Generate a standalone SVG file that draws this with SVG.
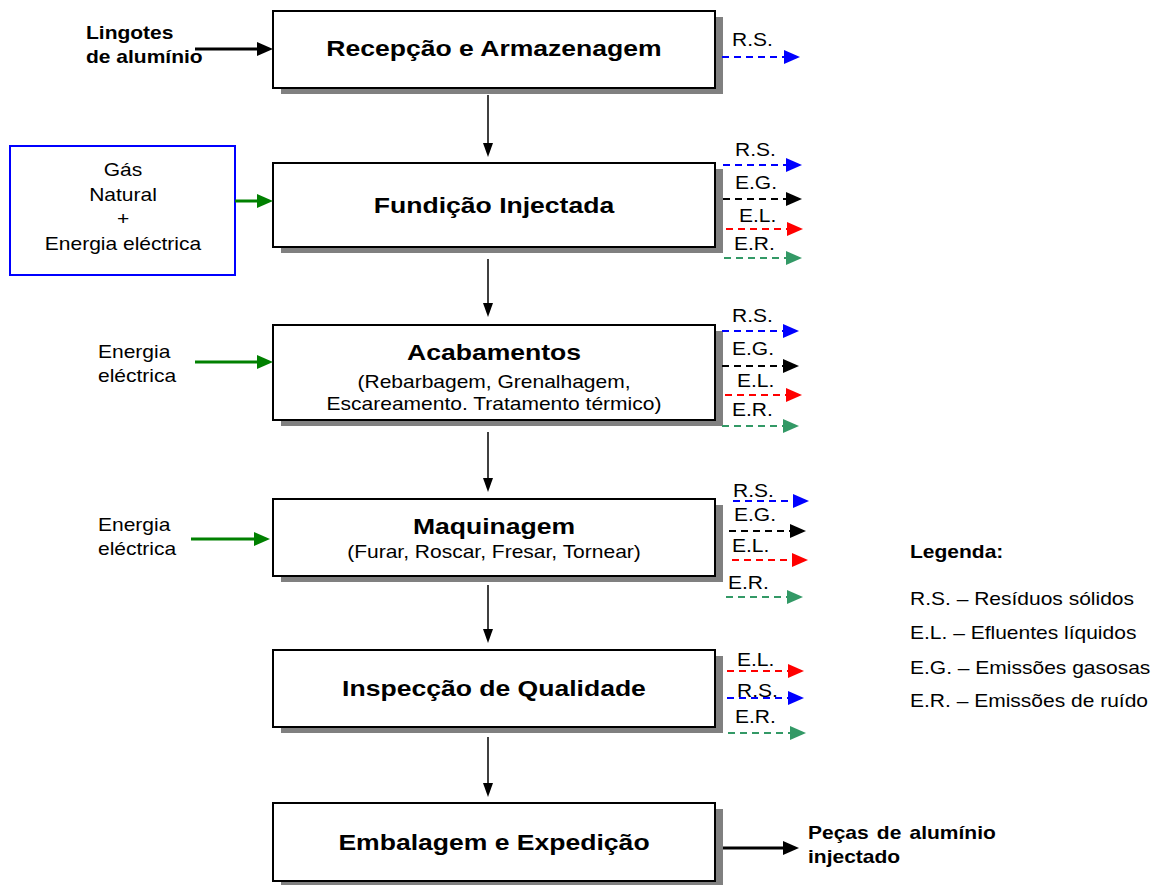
<svg xmlns="http://www.w3.org/2000/svg" width="1158" height="885" viewBox="0 0 1158 885">
<style>
.t{font-family:"Liberation Sans",Arial,Helvetica,sans-serif;font-size:18px;fill:#000}
.b{font-weight:bold}
.c{text-anchor:middle}
.ti{font-family:"Liberation Sans",Arial,Helvetica,sans-serif;font-size:22.5px;font-weight:bold;text-anchor:middle;fill:#000}
.box{fill:#fff;stroke:#000;stroke-width:2}
.sh{fill:#808080}
.d{fill:none;stroke-width:2;stroke-dasharray:7 5}
.sol{fill:none;stroke-width:3}
.v{fill:none;stroke:#000;stroke-width:1.5}
</style>
<defs>
<marker id="mBlue" viewBox="0 0 16 14" refX="0" refY="7" markerWidth="16" markerHeight="14" markerUnits="userSpaceOnUse" orient="auto"><path d="M0,0 L16,7 L0,14 z" fill="#0000FF"/></marker>
<marker id="mBlack" viewBox="0 0 16 14" refX="0" refY="7" markerWidth="16" markerHeight="14" markerUnits="userSpaceOnUse" orient="auto"><path d="M0,0 L16,7 L0,14 z" fill="#000"/></marker>
<marker id="mRed" viewBox="0 0 16 14" refX="0" refY="7" markerWidth="16" markerHeight="14" markerUnits="userSpaceOnUse" orient="auto"><path d="M0,0 L16,7 L0,14 z" fill="#FF0000"/></marker>
<marker id="mSea" viewBox="0 0 16 14" refX="0" refY="7" markerWidth="16" markerHeight="14" markerUnits="userSpaceOnUse" orient="auto"><path d="M0,0 L16,7 L0,14 z" fill="#339966"/></marker>
<marker id="mGreen" viewBox="0 0 16 14" refX="0" refY="7" markerWidth="16" markerHeight="14" markerUnits="userSpaceOnUse" orient="auto"><path d="M0,0 L16,7 L0,14 z" fill="#008000"/></marker>
<marker id="mV" viewBox="0 0 14 10" refX="0" refY="5" markerWidth="14" markerHeight="10" markerUnits="userSpaceOnUse" orient="auto"><path d="M0,0 L14,5 L0,10 z" fill="#000"/></marker>
</defs>
<rect width="1158" height="885" fill="#fff"/>

<g id="n-recepcao">
<rect class="sh" x="281" y="17" width="442" height="77"/>
<rect class="box" x="273" y="11" width="442" height="77"/>
<text class="ti" transform="translate(494 56) scale(1.18 1)">Recepção e Armazenagem</text>
</g>
<g id="n-fundicao">
<rect class="sh" x="281" y="169" width="442" height="84"/>
<rect class="box" x="273" y="163" width="442" height="84"/>
<text class="ti" transform="translate(494 213) scale(1.18 1)">Fundição Injectada</text>
</g>
<g id="n-acabamentos">
<rect class="sh" x="281" y="331" width="442" height="95"/>
<rect class="box" x="273" y="325" width="442" height="95"/>
<text class="ti" transform="translate(494 360) scale(1.18 1)">Acabamentos</text>
<text class="t c" transform="translate(494 388) scale(1.167 1)">(Rebarbagem, Grenalhagem,</text>
<text class="t c" transform="translate(494 410) scale(1.167 1)">Escareamento. Tratamento térmico)</text>
</g>
<g id="n-maquinagem">
<rect class="sh" x="281" y="505" width="442" height="77"/>
<rect class="box" x="273" y="499" width="442" height="77"/>
<text class="ti" transform="translate(494 534) scale(1.18 1)">Maquinagem</text>
<text class="t c" transform="translate(494 558) scale(1.167 1)">(Furar, Roscar, Fresar, Tornear)</text>
</g>
<g id="n-inspeccao">
<rect class="sh" x="281" y="656" width="442" height="77"/>
<rect class="box" x="273" y="650" width="442" height="77"/>
<text class="ti" transform="translate(494 696) scale(1.18 1)">Inspecção de Qualidade</text>
</g>
<g id="n-embalagem">
<rect class="sh" x="281" y="809" width="442" height="78"/>
<rect class="box" x="273" y="803" width="442" height="78"/>
<text class="ti" transform="translate(494 850) scale(1.18 1)">Embalagem e Expedição</text>
</g>
<g id="n-gas">
<rect x="10" y="146" width="225" height="129" fill="#fff" stroke="#0000FF" stroke-width="2"/>
<text class="t c" transform="translate(123 176) scale(1.167 1)">Gás</text>
<text class="t c" transform="translate(123 200.5) scale(1.167 1)">Natural</text>
<text class="t c" transform="translate(123 225) scale(1.167 1)">+</text>
<text class="t c" transform="translate(123 249.5) scale(1.167 1)">Energia eléctrica</text>
</g>

<g id="n-inputs">
<text class="t b" transform="translate(86 39) scale(1.167 1)">Lingotes</text>
<text class="t b" transform="translate(86 63) scale(1.167 1)">de alumínio</text>
<text class="t" transform="translate(98 358) scale(1.167 1)">Energia</text>
<text class="t" transform="translate(98 382) scale(1.167 1)">eléctrica</text>
<text class="t" transform="translate(98 531) scale(1.167 1)">Energia</text>
<text class="t" transform="translate(98 555) scale(1.167 1)">eléctrica</text>
<text class="t b" transform="translate(808 839) scale(1.167 1)" word-spacing="2">Peças de alumínio</text>
<text class="t b" transform="translate(808 863) scale(1.167 1)">injectado</text>
</g>

<g id="legend">
<text class="t b" transform="translate(910 558) scale(1.167 1)">Legenda:</text>
<text class="t" transform="translate(910 605) scale(1.167 1)">R.S. – Resíduos sólidos</text>
<text class="t" transform="translate(910 639) scale(1.167 1)">E.L. – Efluentes líquidos</text>
<text class="t" transform="translate(910 674) scale(1.167 1)">E.G. – Emissões gasosas</text>
<text class="t" transform="translate(910 707) scale(1.167 1)">E.R. – Emissões de ruído</text>
</g>

<g id="connectors">
<line class="sol" x1="195" y1="49" x2="257" y2="49" stroke="#000" marker-end="url(#mBlack)"/>
<line class="sol" x1="235" y1="201" x2="257" y2="201" stroke="#008000" marker-end="url(#mGreen)"/>
<line class="sol" x1="195" y1="362" x2="257" y2="362" stroke="#008000" marker-end="url(#mGreen)"/>
<line class="sol" x1="191" y1="539" x2="254" y2="539" stroke="#008000" marker-end="url(#mGreen)"/>
<line class="sol" x1="723" y1="848" x2="783" y2="848" stroke="#000" marker-end="url(#mBlack)"/>
<line class="v" x1="488" y1="95" x2="488" y2="143" marker-end="url(#mV)"/>
<line class="v" x1="488" y1="259" x2="488" y2="303" marker-end="url(#mV)"/>
<line class="v" x1="488" y1="432" x2="488" y2="478" marker-end="url(#mV)"/>
<line class="v" x1="488" y1="585" x2="488" y2="629" marker-end="url(#mV)"/>
<line class="v" x1="488" y1="737" x2="488" y2="783" marker-end="url(#mV)"/>
<text class="t" transform="translate(732 46) scale(1.167 1)">R.S.</text>
<line class="d" x1="722" y1="57" x2="784" y2="57" stroke="#0000FF" marker-end="url(#mBlue)"/>
<text class="t" transform="translate(735 156) scale(1.167 1)">R.S.</text>
<line class="d" x1="723" y1="165" x2="786" y2="165" stroke="#0000FF" marker-end="url(#mBlue)"/>
<text class="t" transform="translate(735 189) scale(1.167 1)">E.G.</text>
<line class="d" x1="723" y1="199" x2="786" y2="199" stroke="#000" marker-end="url(#mBlack)"/>
<text class="t" transform="translate(739 222) scale(1.167 1)">E.L.</text>
<line class="d" x1="726" y1="229" x2="787" y2="229" stroke="#FF0000" marker-end="url(#mRed)"/>
<text class="t" transform="translate(734 250) scale(1.167 1)">E.R.</text>
<line class="d" x1="724" y1="258" x2="786" y2="258" stroke="#339966" marker-end="url(#mSea)"/>
<text class="t" transform="translate(732 322) scale(1.167 1)">R.S.</text>
<line class="d" x1="722" y1="331" x2="783" y2="331" stroke="#0000FF" marker-end="url(#mBlue)"/>
<text class="t" transform="translate(732 355) scale(1.167 1)">E.G.</text>
<line class="d" x1="722" y1="366" x2="783" y2="366" stroke="#000" marker-end="url(#mBlack)"/>
<text class="t" transform="translate(737 387) scale(1.167 1)">E.L.</text>
<line class="d" x1="725" y1="395" x2="786" y2="395" stroke="#FF0000" marker-end="url(#mRed)"/>
<text class="t" transform="translate(732 416) scale(1.167 1)">E.R.</text>
<line class="d" x1="722" y1="426" x2="783" y2="426" stroke="#339966" marker-end="url(#mSea)"/>
<text class="t" transform="translate(733 497) scale(1.167 1)">R.S.</text>
<line class="d" x1="733" y1="501" x2="793" y2="501" stroke="#0000FF" marker-end="url(#mBlue)"/>
<text class="t" transform="translate(734 521) scale(1.167 1)">E.G.</text>
<line class="d" x1="729" y1="531" x2="790" y2="531" stroke="#000" marker-end="url(#mBlack)"/>
<text class="t" transform="translate(732 552) scale(1.167 1)">E.L.</text>
<line class="d" x1="732" y1="560" x2="792" y2="560" stroke="#FF0000" marker-end="url(#mRed)"/>
<text class="t" transform="translate(728 589) scale(1.167 1)">E.R.</text>
<line class="d" x1="726" y1="597" x2="787" y2="597" stroke="#339966" marker-end="url(#mSea)"/>
<text class="t" transform="translate(737 666) scale(1.167 1)">E.L.</text>
<line class="d" x1="727" y1="671" x2="788" y2="671" stroke="#FF0000" marker-end="url(#mRed)"/>
<text class="t" transform="translate(737 697) scale(1.167 1)">R.S.</text>
<line class="d" x1="727" y1="698" x2="788" y2="698" stroke="#0000FF" marker-end="url(#mBlue)"/>
<text class="t" transform="translate(735 723) scale(1.167 1)">E.R.</text>
<line class="d" x1="728" y1="733" x2="790" y2="733" stroke="#339966" marker-end="url(#mSea)"/>
</g>
</svg>
